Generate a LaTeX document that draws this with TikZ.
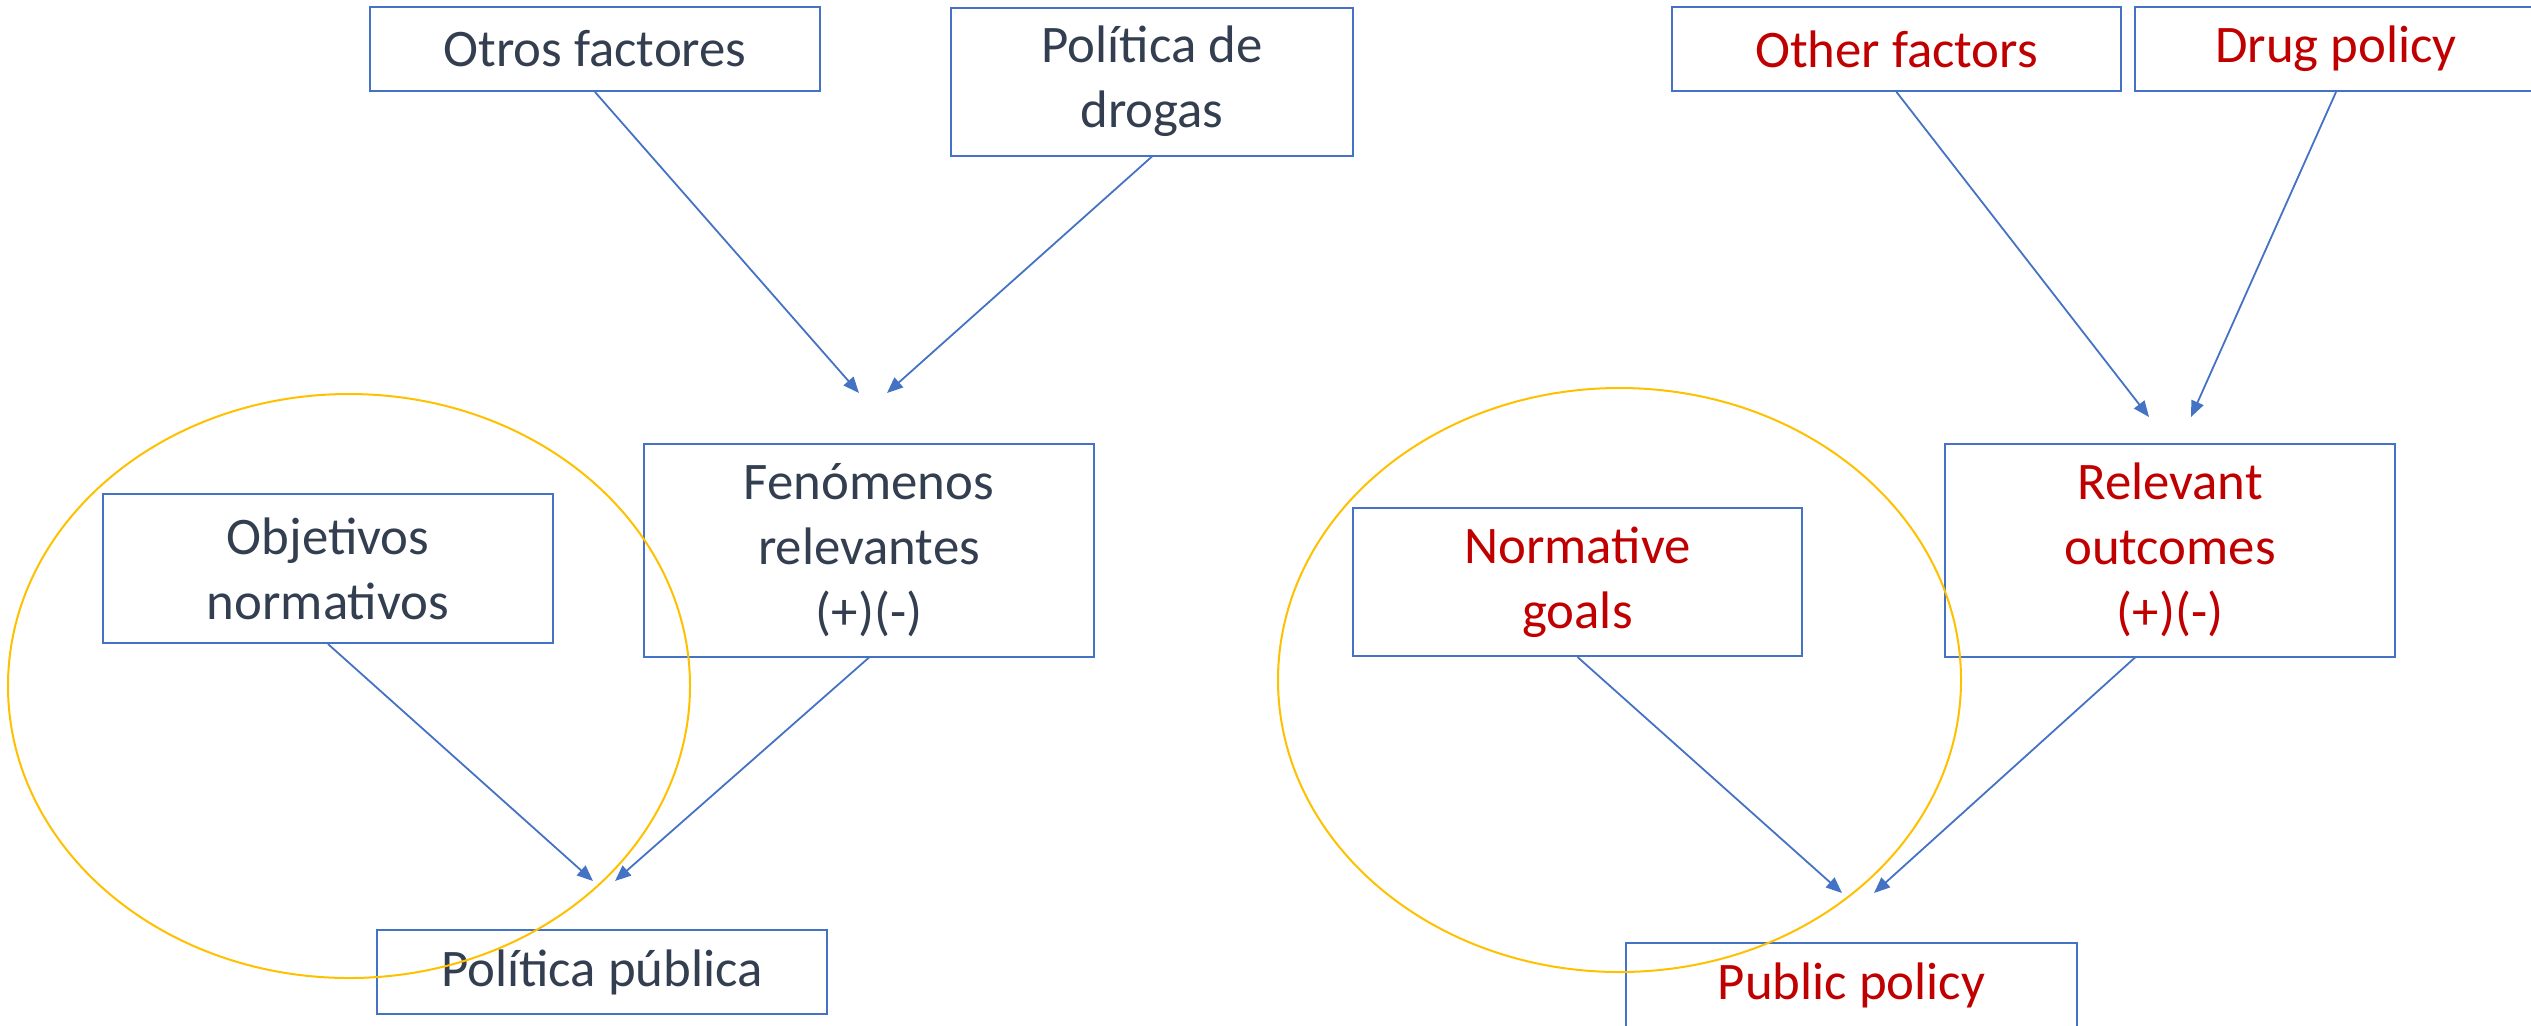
\documentclass[tikz,border=0pt]{standalone}
\usepackage{fontspec}
\setmainfont{Carlito}
\usetikzlibrary{arrows.meta,shapes.geometric}
\definecolor{boxblue}{HTML}{4472C4}
\definecolor{txtdark}{HTML}{333F50}
\definecolor{txtred}{HTML}{C00000}
\definecolor{ringgold}{HTML}{FFC000}
\tikzset{
  box/.style={draw=boxblue, line width=1pt, rectangle, inner sep=0pt, align=center,
    font=\fontsize{26.4}{32.5}\selectfont},
  es/.style={box, text=txtdark},
  en/.style={box, text=txtred},
  conn/.style={draw=boxblue, line width=0.9pt, -{Triangle[length=8pt,width=6.5pt]}},
  ring/.style={draw=ringgold, line width=1pt},
}
\begin{document}
\begin{tikzpicture}[x=0.5pt,y=-0.5pt]
\useasboundingbox (0,0) rectangle (2531,1025);
% left (Spanish)
\node[es, minimum width=225pt, minimum height=42pt] (otros) at (595,49) {Otros factores};
\node[es, minimum width=201pt, minimum height=74pt] (drogas) at (1152,81.5) {Política de\\drogas};
\node[es, minimum width=225pt, minimum height=106.5pt] (fenom) at (869,550) {Fenómenos\\relevantes\\(+)(-)};
\node[es, minimum width=225pt, minimum height=74.5pt] (objet) at (328,568.5) {Objetivos\\normativos};
\node[es, minimum width=225pt, minimum height=42pt] (publica) at (602,972) {Política pública};
\coordinate (l1) at (859,393);
\coordinate (l2) at (887,393);
\coordinate (l3) at (593,881);
\coordinate (l4) at (615,881);
\draw[conn] (otros.south) -- (l1);
\draw[conn] (drogas.south) -- (l2);
\draw[conn] (objet.south) -- (l3);
\draw[conn] (fenom.south) -- (l4);
\node[ring, ellipse, minimum width=341pt, minimum height=292pt, inner sep=0pt] (ringL) at (349,686) {};
% right (English)
\node[en, minimum width=224.5pt, minimum height=42pt] (other) at (1896.5,49) {Other factors};
\node[en, minimum width=201pt, minimum height=42pt] (drug) at (2336,49) {Drug policy};
\node[en, minimum width=225pt, minimum height=106.5pt] (relev) at (2170,550) {Relevant\\outcomes\\(+)(-)};
\node[en, minimum width=224.5pt, minimum height=74pt] (norm) at (1577.5,582) {Normative\\goals};
\node[en, minimum width=225.5pt, minimum height=42pt] (public) at (1851.5,985) {Public policy};
\coordinate (r1) at (2149,417);
\coordinate (r2) at (2191,417);
\coordinate (r3) at (1842,893);
\coordinate (r4) at (1874,893);
\draw[conn] (other.south) -- (r1);
\draw[conn] (drug.south) -- (r2);
\draw[conn] (norm.south) -- (r3);
\draw[conn] ([xshift=-17.5pt]relev.south) -- (r4);
\node[ring, ellipse, minimum width=341.5pt, minimum height=292pt, inner sep=0pt] (ringR) at (1619.5,680) {};
\end{tikzpicture}
\end{document}
